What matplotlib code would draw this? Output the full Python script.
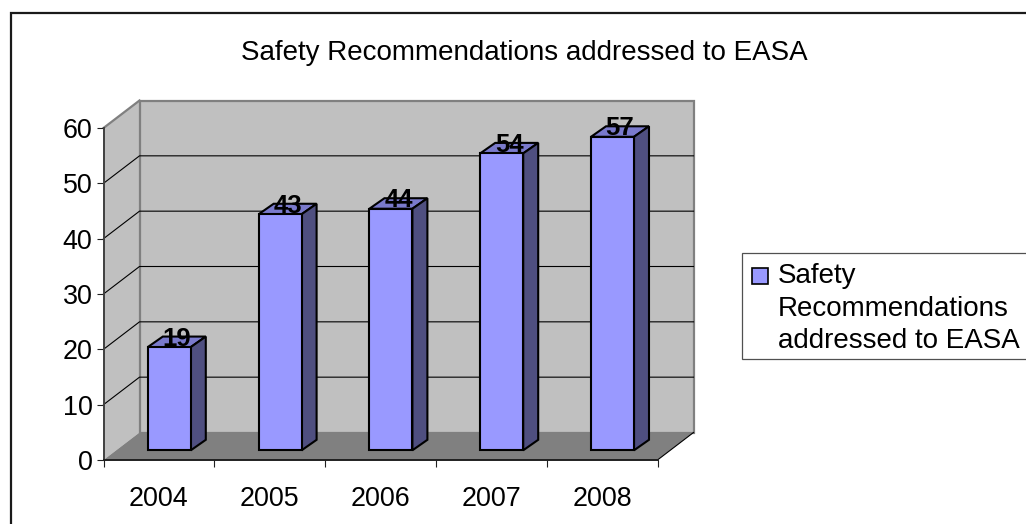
import matplotlib
matplotlib.use('Agg')
import matplotlib.pyplot as plt
from matplotlib.patches import Rectangle

plt.rcParams['font.family'] = ['Liberation Sans', 'DejaVu Sans']

# data
years = ['2004', '2005', '2006', '2007', '2008']
recommendations = [19, 43, 44, 54, 57]
y_ticks = [0, 10, 20, 30, 40, 50, 60]
chart_title = 'Safety Recommendations addressed to EASA'
series_label = 'Safety\nRecommendations\naddressed to EASA'

W, H = 1026, 524
fig = plt.figure(figsize=(W / 100, H / 100), dpi=100)
fig.patch.set_facecolor('white')

# outer frame, runs off the right and bottom of the picture
fig.add_artist(Rectangle((10.5 / W, -0.05), 1.1, 1.05 - 12.5 / H, transform=fig.transFigure,
                         fill=False, edgecolor='#1a1a1a', linewidth=1.6))

# axes = the front plane of the fake 3d box
ax = fig.add_axes([103.5 / W, (H - 460) / H, 554 / W, 332 / H])
ax.set_xlim(0, 5)
ax.set_ylim(0, 60)
ax.patch.set_visible(False)

# pixel sizes turned into data units
xpx = 5 / 554
ypx = 60 / 332
depth_x = 36 * xpx
depth_y = 27.5 * ypx

# walls and floor
ax.fill([0, depth_x, depth_x, 0], [0, depth_y, 60 + depth_y, 60], facecolor='#c0c0c0',
        edgecolor='none', clip_on=False, zorder=0.5)
ax.fill([depth_x, 5 + depth_x, 5 + depth_x, depth_x], [depth_y, depth_y, 60 + depth_y, 60 + depth_y],
        facecolor='#c0c0c0', edgecolor='#808080', linewidth=1.6, clip_on=False, zorder=0.6)
ax.fill([0, 5, 5 + depth_x, depth_x], [0, 0, depth_y, depth_y], facecolor='#808080',
        edgecolor='none', clip_on=False, zorder=0.8)
ax.plot([0, depth_x], [60, 60 + depth_y], color='#808080', lw=1.6, clip_on=False, zorder=0.9)
ax.plot([5, 5 + depth_x], [0, depth_y], color='black', lw=0.8, clip_on=False, zorder=1)

# gridlines on left and back wall
for t in y_ticks[1:-1]:
    ax.plot([0, depth_x, 5 + depth_x], [t, t + depth_y, t + depth_y], color='black', lw=0.8,
            clip_on=False, zorder=0.7)

# bars
bar_w = 43 * xpx
bar_dx = 15 * xpx
bar_dy = 10.5 * ypx
base_x = 13 * xpx
base_y = 9.7 * ypx
top_drop = 1.9 * ypx
for i, v in enumerate(recommendations):
    x0 = i + base_x + 31.3 * xpx
    x1 = x0 + bar_w
    y0 = base_y
    y1 = base_y + v - top_drop
    ax.fill([x0, x1, x1 + bar_dx, x0 + bar_dx], [y1, y1, y1 + bar_dy, y1 + bar_dy],
            facecolor='#7a7acc', edgecolor='black', linewidth=1.5, joinstyle='miter',
            clip_on=False, zorder=3)
    ax.fill([x1, x1 + bar_dx, x1 + bar_dx, x1], [y0, y0 + bar_dy, y1 + bar_dy, y1],
            facecolor='#4f4f80', edgecolor='black', linewidth=1.5, joinstyle='miter',
            clip_on=False, zorder=3)
    ax.fill([x0, x1, x1, x0], [y0, y0, y1, y1], facecolor='#9999ff', edgecolor='black',
            linewidth=1.5, joinstyle='miter', clip_on=False, zorder=3.1)
    ax.text((x0 + x1 + bar_dx) / 2, y1 + 1.5 * ypx, str(v), ha='center', va='baseline',
            fontsize=18.5, fontweight='bold', color='black', zorder=4)

# axis lines and ticks
for s in ['top', 'right']:
    ax.spines[s].set_visible(False)
ax.spines['left'].set_color('#404040')
ax.spines['left'].set_linewidth(1.4)
ax.spines['bottom'].set_color('#202020')
ax.spines['bottom'].set_linewidth(1.4)
ax.set_yticks(y_ticks)
ax.set_xticks(range(6))
ax.set_xticklabels([])
ax.set_xticks([i + 0.5 for i in range(5)], labels=years, minor=True)
ax.tick_params(axis='x', which='major', length=5, width=0.8, color='#202020')
ax.tick_params(axis='x', which='minor', length=0, pad=19, labelsize=19.4)
ax.tick_params(axis='y', length=5, width=0.8, color='#202020', pad=3, labelsize=19.4)

fig.text(524 / W, 1 - 53 / H, chart_title, ha='center', va='center', fontsize=19.95)

# legend box, also cut by the right edge
fig.add_artist(Rectangle((742 / W, 1 - 358.5 / H), 300 / W, 105.5 / H, transform=fig.transFigure,
                         facecolor='white', edgecolor='#505050', linewidth=0.9))
fig.add_artist(Rectangle((752 / W, 1 - 284 / H), 16 / W, 16 / H, transform=fig.transFigure,
                         facecolor='#9999ff', edgecolor='black', linewidth=1.2))
fig.text(777.5 / W, 1 - 283 / H, series_label.split('\n')[0], ha='left', va='baseline', fontsize=20)
fig.text(777.5 / W, 1 - 315.5 / H, series_label.split('\n')[1], ha='left', va='baseline', fontsize=20)
fig.text(777.5 / W, 1 - 347.5 / H, series_label.split('\n')[2], ha='left', va='baseline', fontsize=20)

fig.savefig('out.png', dpi=100)
